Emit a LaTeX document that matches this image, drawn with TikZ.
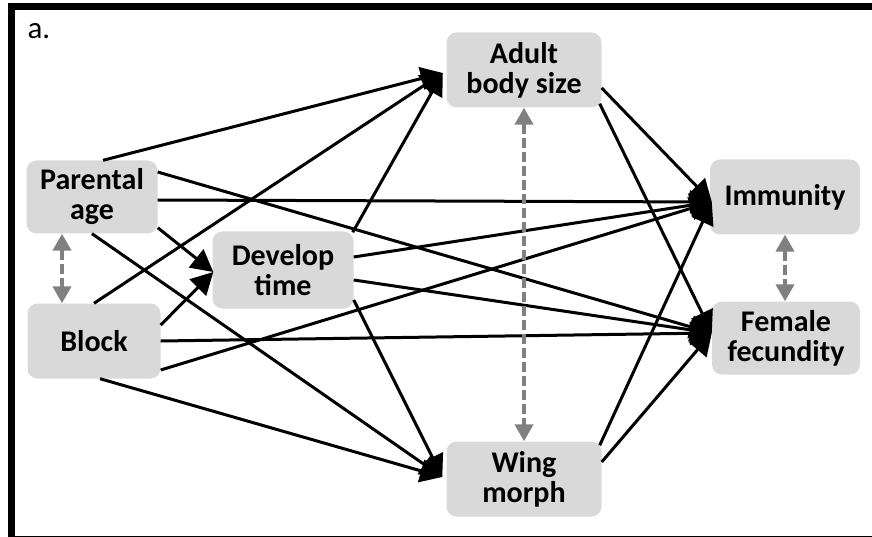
\documentclass[tikz,border=0pt]{standalone}
\usepackage{fontspec}
\setmainfont{Carlito}
\usetikzlibrary{arrows.meta}

\begin{document}
\begin{tikzpicture}[x=1pt, y=-1pt,
	var/.style={fill=black!15, rounded corners=10pt, inner sep=0pt, minimum height=75pt, align=center, font=\bfseries\fontsize{30}{30}\selectfont},
	path/.style={line width=3pt, -{Triangle[length=22pt, width=23pt]}},
	corr/.style={gray, line width=4pt, dash pattern=on 10pt off 4pt, {Triangle[length=17pt, width=18pt]}-{Triangle[length=17pt, width=18pt]}}]
	\useasboundingbox (0,0) rectangle (872,537);
	\clip (0,0) rectangle (872,537);
	%frame
	\draw[line width=6.5pt] (11.5,6.5) rectangle (890,539);
	\node[anchor=base west, font=\fontsize{31}{31}\selectfont] (lbl) at (24,39) {a.};
	%variables
	\node[var, minimum width=131pt, minimum height=73pt] (pa) at (92,197) {Parental\\age};
	\node[var, minimum width=133pt] (block) at (94,341) {Block};
	\node[var, minimum width=141pt, minimum height=77pt] (dt) at (283,270) {Develop\\time};
	\node[var, minimum width=155pt] (abs) at (524,70) {Adult\\body size};
	\node[var, minimum width=155pt] (wm) at (524,479) {Wing\\morph};
	\node[var, minimum width=150pt] (imm) at (785,197) {Immunity};
	\node[var, minimum width=148pt, minimum height=73pt] (ff) at (786,338) {Female\\fecundity};
	%arrow tips
	\coordinate (abs in) at ([shift={(-3.5,3)}]abs.west);
	\coordinate (dt in) at ([shift={(1,2)}]dt.west);
	\coordinate (wm in) at ([shift={(-4,-2)}]wm.west);
	\coordinate (imm in) at ([shift={(2,5)}]imm.west);
	\coordinate (ff in) at ([shift={(0,-5)}]ff.west);
	%parental age
	\draw[path] ([shift={(11,0)}]pa.north) -- (abs in);
	\draw[path] ([shift={(0,3)}]pa.east) -- (imm in);
	\draw[path] ([shift={(0,-25)}]pa.east) -- (ff in);
	\draw[path] ([shift={(0,-6)}]pa.south east) -- (dt in);
	\draw[path] (pa.south) -- (wm in);
	%block
	\draw[path] (block.north) -- (abs in);
	\draw[path] ([shift={(0,-16)}]block.east) -- (dt in);
	\draw[path] (block.east) -- (ff in);
	\draw[path] ([shift={(0,29)}]block.east) -- (imm in);
	\draw[path] ([shift={(6,0)}]block.south) -- (wm in);
	%develop time
	\draw[path] ([shift={(-1,1)}]dt.north east) -- (abs in);
	\draw[path] ([shift={(0,-13)}]dt.east) -- (imm in);
	\draw[path] ([shift={(0,10)}]dt.east) -- (ff in);
	\draw[path] ([shift={(0,30)}]dt.east) -- (wm in);
	%body size and wing morph
	\draw[path] ([shift={(0,18)}]abs.east) -- (imm in);
	\draw[path] ([shift={(-2,-4)}]abs.south east) -- (ff in);
	\draw[path] ([shift={(-2,4)}]wm.north east) -- (imm in);
	\draw[path] ([shift={(0,-17)}]wm.east) -- (ff in);
	%correlations
	\draw[corr] ([shift={(-30,0)}]pa.south) -- ([shift={(-30,0)}]pa.south |- block.north);
	\draw[corr] (abs.south) -- (abs.south |- wm.north);
	\draw[corr] (imm.south) -- (imm.south |- ff.north);
\end{tikzpicture}
\end{document}
